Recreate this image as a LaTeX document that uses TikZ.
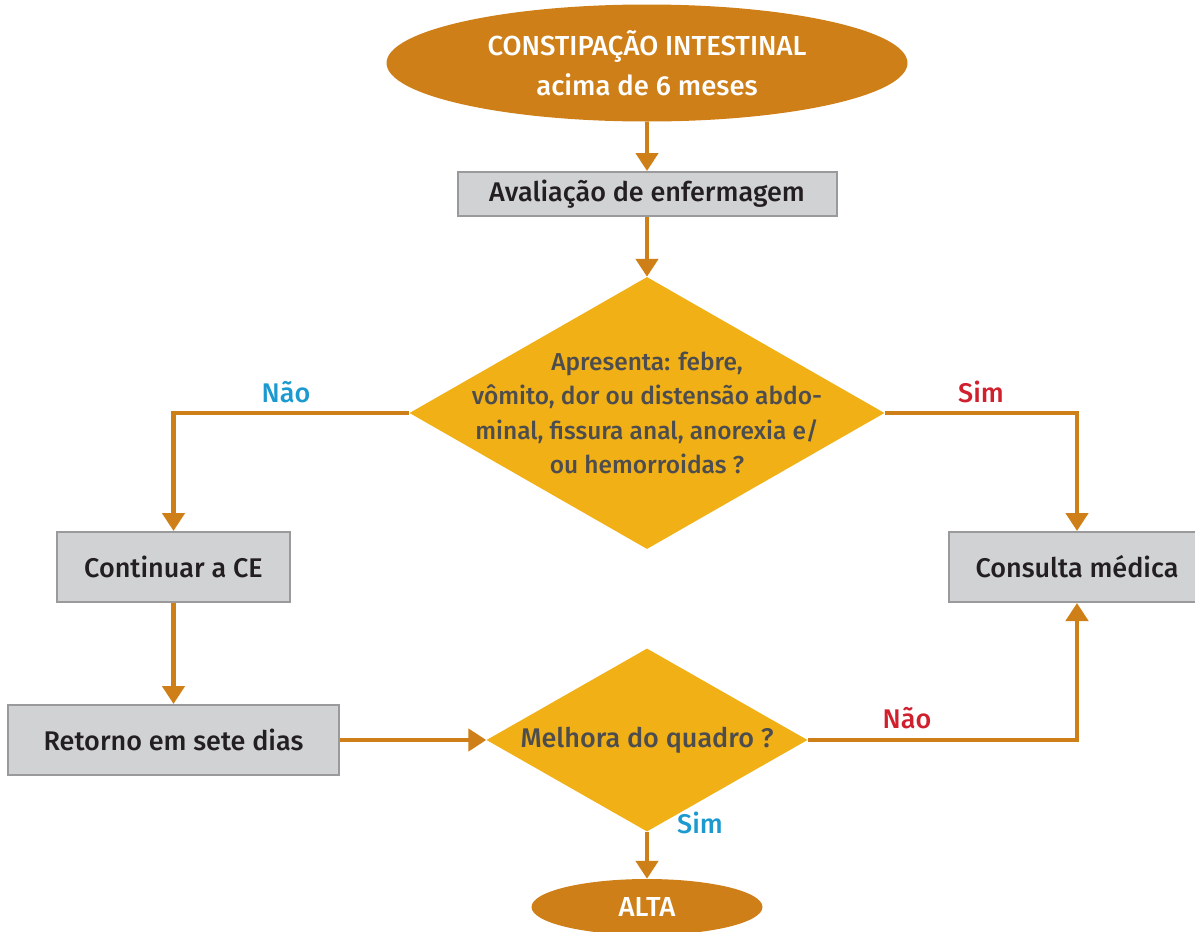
\documentclass[tikz,border=0pt]{standalone}
\usepackage{fontspec}
\setmainfont{Fira Sans}[UprightFont={* Medium},BoldFont={* SemiBold}]
\usetikzlibrary{shapes.geometric,arrows.meta}
\definecolor{ochre}{HTML}{CE7F17}
\definecolor{gold}{HTML}{F0B016}
\definecolor{boxgray}{HTML}{D1D2D4}
\definecolor{edgegray}{HTML}{9A9A9C}
\definecolor{darktext}{HTML}{231F20}
\definecolor{qtext}{HTML}{4D4D4F}
\definecolor{simblue}{HTML}{1C9AD0}
\definecolor{naored}{HTML}{D0202E}

\begin{document}
\begin{tikzpicture}[x=1pt, y=-1pt,
    term/.style={ellipse, fill=ochre, text=white, inner sep=0pt, align=center, font=\fontsize{27.5}{40}\selectfont},
    stepbox/.style={rectangle, fill=boxgray, draw=edgegray, line width=2pt, text=darktext, font=\fontsize{27}{30}\selectfont},
    ask/.style={diamond, fill=gold, inner sep=0pt},
    asktext/.style={text=qtext, align=center, font=\fontsize{24.5}{34.5}\selectfont},
    flow/.style={draw=ochre, line width=4.5pt, -{Triangle[width=22pt,length=18pt]}},
    yes/.style={font=\fontsize{27}{30}\selectfont},
  ]
  \useasboundingbox (0,0) rectangle (1195,932);
  \node[term, minimum width=521pt, minimum height=117pt] (start) at (647,63)
    {CONSTIPAÇÃO INTESTINAL\\acima de 6 meses};
  \node[stepbox, minimum width=379pt, minimum height=44pt] (aval) at (647,194) {Avaliação de enfermagem};
  \node[ask, minimum width=475pt, minimum height=272pt,
    label={[asktext]center:Apresenta: febre,\\vômito, dor ou distensão abdo-\\minal, fissura anal, anorexia e/\\ou hemorroidas ?}]
    (sintomas) at (647,413) {};
  \node[stepbox, minimum width=233pt, minimum height=70pt] (cont) at (173.5,567) {Continuar a CE};
  \node[stepbox, minimum width=256pt, minimum height=70pt] (cons) at (1077,567) {Consulta médica};
  \node[stepbox, minimum width=331pt, minimum height=70pt] (ret) at (173.5,740) {Retorno em sete dias};
  \node[ask, minimum width=321pt, minimum height=183pt,
    label={[asktext, font=\fontsize{27}{30}\selectfont]center:Melhora do quadro ?}] (melhora) at (647,740) {};
  \node[term, minimum width=231pt, minimum height=56pt] (alta) at (647,907) {ALTA};

  \draw[flow] (start) -- (aval);
  \draw[flow] (aval) -- (sintomas);
  \draw[flow] (sintomas.west) -| (cont.north);
  \draw[flow] (sintomas.east) -| (cons.north);
  \draw[flow] (cont) -- (ret);
  \draw[flow] (ret) -- (melhora);
  \draw[flow] (melhora.east) -| (cons.south);
  \draw[flow] (melhora.south) -- (alta);

  \node[yes, text=simblue] (nao1) at (286,392) {Não};
  \node[yes, text=naored] (sim1) at (981,392) {Sim};
  \node[yes, text=naored] (nao2) at (907,718) {Não};
  \node[yes, text=simblue] (sim2) at (700,823) {Sim};
\end{tikzpicture}
\end{document}
